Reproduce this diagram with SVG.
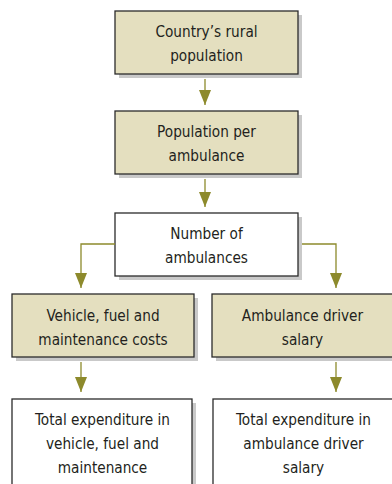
<svg xmlns="http://www.w3.org/2000/svg" width="392" height="484" viewBox="0 0 392 484">
<style>
.sh{fill:#c9c9c9}
.box{stroke:#2b2b2b;stroke-width:1.3}
.tan{fill:#e4dfbf}
.wht{fill:#ffffff}
text{font-family:"Liberation Sans Narrow","DejaVu Sans Condensed","Liberation Sans",sans-serif;font-size:15.2px;fill:#231f20;text-anchor:middle}
.con{fill:none;stroke:#8d8a2c;stroke-width:1.3}
</style>
<defs>
<marker id="ah" viewBox="0 0 15 12" refX="15" refY="6" markerWidth="15" markerHeight="12" markerUnits="userSpaceOnUse" orient="auto">
<path d="M0,0 L15,6 L0,12 Z" fill="#8d8a2c"/>
</marker>
</defs>
<rect width="392" height="484" fill="#ffffff"/>
<g id="n1">
<rect class="sh" x="119" y="15" width="183" height="63"/>
<rect class="box tan" x="115" y="11" width="183" height="63"/>
<text x="206.5" y="37">Country’s rural</text>
<text x="206.5" y="61">population</text>
</g>
<g id="n2">
<rect class="sh" x="119" y="115" width="183" height="63"/>
<rect class="box tan" x="115" y="111" width="183" height="63"/>
<text x="206.5" y="137">Population per</text>
<text x="206.5" y="161">ambulance</text>
</g>
<g id="n3">
<rect class="sh" x="119" y="217" width="183" height="63"/>
<rect class="box wht" x="115" y="213" width="183" height="63"/>
<text x="206.5" y="239">Number of</text>
<text x="206.5" y="263">ambulances</text>
</g>
<g id="n4">
<rect class="sh" x="16" y="298" width="182" height="63"/>
<rect class="box tan" x="12" y="294" width="182" height="63"/>
<text x="103" y="321">Vehicle, fuel and</text>
<text x="103" y="345">maintenance costs</text>
</g>
<g id="n5">
<rect class="sh" x="216" y="298" width="182" height="63"/>
<rect class="box tan" x="212" y="294" width="182" height="63"/>
<text x="302.5" y="321">Ambulance driver</text>
<text x="302.5" y="345">salary</text>
</g>
<g id="n6">
<rect class="sh" x="16" y="403" width="180" height="90"/>
<rect class="box wht" x="12" y="399" width="180" height="90"/>
<text x="102.5" y="425">Total expenditure in</text>
<text x="102.5" y="449">vehicle, fuel and</text>
<text x="102.5" y="473">maintenance</text>
</g>
<g id="n7">
<rect class="sh" x="217" y="403" width="182" height="90"/>
<rect class="box wht" x="213" y="399" width="182" height="90"/>
<text x="303.5" y="425">Total expenditure in</text>
<text x="303.5" y="449">ambulance driver</text>
<text x="303.5" y="473">salary</text>
</g>
<g id="connectors">
<path class="con" d="M205,79 V105" marker-end="url(#ah)"/>
<path class="con" d="M205,179 V207" marker-end="url(#ah)"/>
<path class="con" d="M115,244 H81 V288" marker-end="url(#ah)"/>
<path class="con" d="M302,244 H336 V288" marker-end="url(#ah)"/>
<path class="con" d="M81,362 V392" marker-end="url(#ah)"/>
<path class="con" d="M336,362 V392" marker-end="url(#ah)"/>
</g>
</svg>
